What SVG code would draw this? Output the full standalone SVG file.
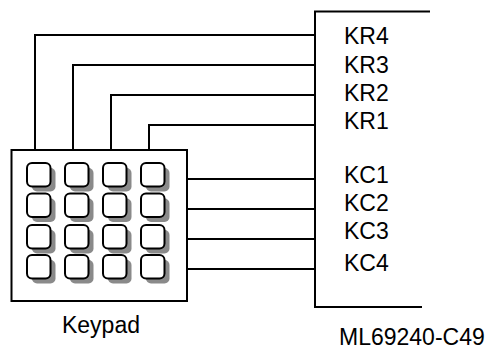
<svg xmlns="http://www.w3.org/2000/svg" width="494" height="351" viewBox="0 0 494 351">
<style>
.ln{fill:none;stroke:#000;stroke-width:2}
.key{fill:#fff;stroke:#000;stroke-width:2}
.sh{fill:#8a8a8a}
.t{font-family:"Liberation Sans",Arial,sans-serif;font-size:23px;fill:#000}
</style>
<defs>
<g id="k"><rect class="sh" x="5" y="5" width="23.5" height="23.5" rx="5"/><rect class="key" x="0" y="0" width="23.5" height="23.5" rx="5"/></g>
</defs>
<rect width="494" height="351" fill="#fff"/>
<g id="connectors">
<polyline class="ln" points="35,150 35,35 315,35"/>
<polyline class="ln" points="73,150 73,65 315,65"/>
<polyline class="ln" points="111,150 111,95 315,95"/>
<polyline class="ln" points="149,150 149,125 315,125"/>
<line class="ln" x1="187" y1="179" x2="315" y2="179"/>
<line class="ln" x1="187" y1="209" x2="315" y2="209"/>
<line class="ln" x1="187" y1="239" x2="315" y2="239"/>
<line class="ln" x1="187" y1="269" x2="315" y2="269"/>
</g>
<g id="keypad">
<rect class="ln" x="11.5" y="150" width="175.5" height="151"/>
<use href="#k" x="27" y="163"/><use href="#k" x="65" y="163"/><use href="#k" x="103" y="163"/><use href="#k" x="141" y="163"/>
<use href="#k" x="27" y="193.5"/><use href="#k" x="65" y="193.5"/><use href="#k" x="103" y="193.5"/><use href="#k" x="141" y="193.5"/>
<use href="#k" x="27" y="225"/><use href="#k" x="65" y="225"/><use href="#k" x="103" y="225"/><use href="#k" x="141" y="225"/>
<use href="#k" x="27" y="255"/><use href="#k" x="65" y="255"/><use href="#k" x="103" y="255"/><use href="#k" x="141" y="255"/>
<text class="t" x="101" y="333" text-anchor="middle">Keypad</text>
</g>
<g id="chip">
<polyline class="ln" points="430,11.5 315,11.5 315,307 422,307"/>
<text class="t" x="344" y="44">KR4</text>
<text class="t" x="344" y="73">KR3</text>
<text class="t" x="344" y="101">KR2</text>
<text class="t" x="344" y="129">KR1</text>
<text class="t" x="344" y="183">KC1</text>
<text class="t" x="344" y="211">KC2</text>
<text class="t" x="344" y="239">KC3</text>
<text class="t" x="344" y="270.5">KC4</text>
<text class="t" x="339" y="345">ML69240-C49</text>
</g>
</svg>
